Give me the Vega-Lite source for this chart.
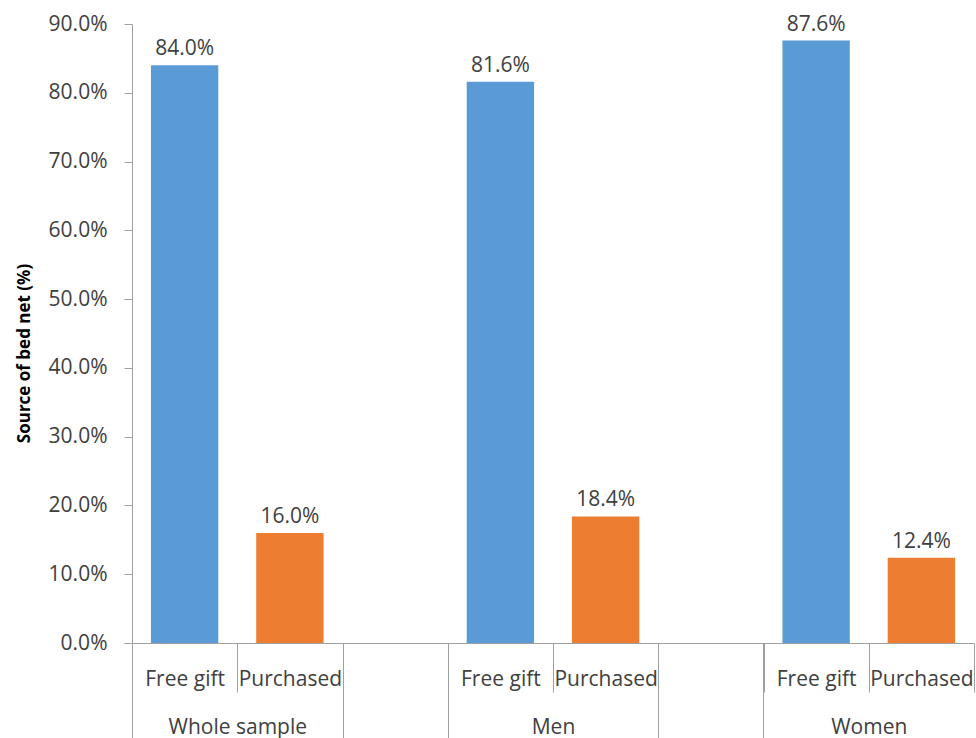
{
  "$schema": "https://vega.github.io/schema/vega-lite/v6.json",
  "width": 842,
  "height": 619,
  "autosize": {"type": "none"},
  "padding": {"left": 132, "top": 24, "right": 2, "bottom": 95},
  "background": "white",
  "config": {"view": {"stroke": null}, "font": "Open Sans"},
  "data": {
    "values": [
      {"group": "Whole sample", "source": "Free gift", "slot": "Whole sample|Free gift", "value": 0.84},
      {"group": "Whole sample", "source": "Purchased", "slot": "Whole sample|Purchased", "value": 0.16},
      {"group": "Men", "source": "Free gift", "slot": "Men|Free gift", "value": 0.816},
      {"group": "Men", "source": "Purchased", "slot": "Men|Purchased", "value": 0.184},
      {"group": "Women", "source": "Free gift", "slot": "Women|Free gift", "value": 0.876},
      {"group": "Women", "source": "Purchased", "slot": "Women|Purchased", "value": 0.124}
    ]
  },
  "encoding": {
    "y": {
      "field": "value",
      "type": "quantitative",
      "scale": {"domain": [0, 0.9], "nice": false, "zero": true},
      "axis": {
        "values": [0, 0.1, 0.2, 0.3, 0.4, 0.5, 0.6, 0.7, 0.8, 0.9],
        "format": ".1%",
        "grid": false,
        "domainColor": "#a0a0a0",
        "tickColor": "#a0a0a0",
        "tickSize": 8,
        "labelPadding": 17,
        "labelFont": "Open Sans",
        "labelFontSize": 21,
        "labelColor": "#404040",
        "title": "Source of bed net (%)",
        "titleFont": "Open Sans",
        "titleFontSize": 17,
        "titleFontWeight": "bold",
        "titleColor": "#000000",
        "titleAngle": -90,
        "titleX": -103,
        "titleY": 329,
        "titleAlign": "center",
        "titleBaseline": "alphabetic"
      }
    }
  },
  "layer": [
    {
      "mark": {"type": "bar"},
      "encoding": {
        "x": {
          "field": "slot",
          "type": "nominal",
          "sort": null,
          "scale": {
            "domain": ["Whole sample|Free gift", "Whole sample|Purchased", "gap1", "Men|Free gift", "Men|Purchased", "gap2", "Women|Free gift", "Women|Purchased"],
            "paddingInner": 0.36,
            "paddingOuter": 0.18
          },
          "axis": {
            "orient": "bottom",
            "title": null,
            "bandPosition": 1,
            "tickOffset": 18.945,
            "labelOffset": -18.945,
            "tickSize": 49,
            "tickColor": "#a0a0a0",
            "domainColor": "#a0a0a0",
            "labelExpr": "indexof(datum.value, '|') >= 0 ? split(datum.value, '|')[1] : ''",
            "labelAngle": 0,
            "labelPadding": -7,
            "labelBaseline": "alphabetic",
            "labelFont": "Open Sans",
            "labelFontSize": 21,
            "labelColor": "#404040",
            "labelOverlap": false
          }
        },
        "color": {
          "field": "source",
          "type": "nominal",
          "scale": {"domain": ["Free gift", "Purchased"], "range": ["#5B9BD5", "#ED7D31"]},
          "legend": null
        }
      }
    },
    {
      "mark": {"type": "text", "baseline": "alphabetic", "dy": -10, "font": "Open Sans", "fontSize": 21, "color": "#404040"},
      "encoding": {
        "x": {
          "field": "slot",
          "type": "nominal",
          "sort": null,
          "axis": {
            "orient": "bottom",
            "title": null,
            "values": ["Whole sample|Free gift", "gap1", "Men|Free gift", "gap2", "Women|Free gift"],
            "bandPosition": 0,
            "tickOffset": -18.945,
            "labelOffset": 71.57,
            "tickSize": 95,
            "tickColor": "#a0a0a0",
            "domain": false,
            "labelExpr": "indexof(datum.value, 'Free gift') >= 0 ? split(datum.value, '|')[0] : ''",
            "labelAngle": 0,
            "labelPadding": -5,
            "labelBaseline": "alphabetic",
            "labelFont": "Open Sans",
            "labelFontSize": 21,
            "labelColor": "#404040",
            "labelOverlap": false
          }
        },
        "text": {"field": "value", "type": "quantitative", "format": ".1%"}
      }
    }
  ],
  "resolve": {"axis": {"x": "independent"}}
}
